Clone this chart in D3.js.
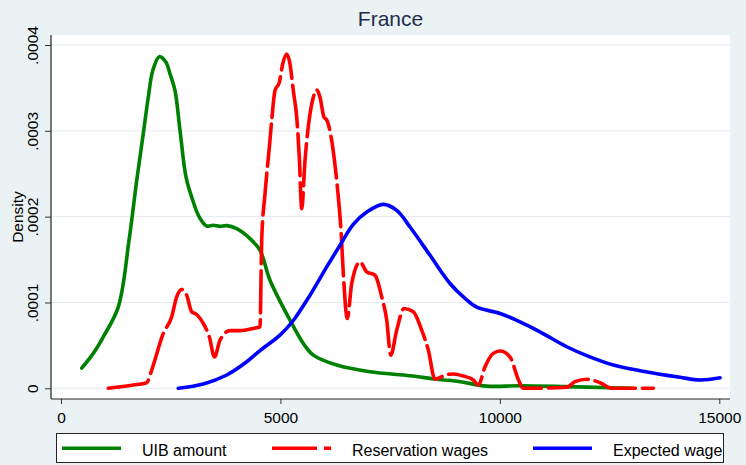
<!DOCTYPE html>
<html>
<head>
<meta charset="utf-8">
<script src="https://cdn.jsdelivr.net/npm/d3@7"></script>
<style>
  body { margin: 0; background: #eaf2f3; }
  svg { display: block; font-family: "Liberation Sans", Arial, sans-serif; }
</style>
</head>
<body>
<div id="chart"></div>
<script>
// Tick values and labels
const xTicks = [0, 5000, 10000, 15000];
const yTicks = [0, 0.0001, 0.0002, 0.0003, 0.0004];
const yTickLabels = ["0", ".0001", ".0002", ".0003", ".0004"];
const seriesNames = ["UIB amount", "Reservation wages", "Expected wage"];

// [amount, density]
const uibAmount = [
  [472, 2.36e-5], [736, 4.07e-5], [964, 6.0e-5], [1306, 9.49e-5], [1550, 1.724e-4], [1725, 2.422e-4], [1875, 2.969e-4],
  [1989, 3.391e-4], [2090, 3.701e-4], [2240, 3.864e-4], [2393, 3.798e-4], [2484, 3.663e-4],
  [2598, 3.469e-4], [2712, 3.003e-4], [2849, 2.46e-4], [2978, 2.228e-4], [3151, 1.995e-4],
  [3320, 1.891e-4], [3470, 1.899e-4], [3623, 1.887e-4], [3776, 1.895e-4], [4004, 1.86e-4],
  [4307, 1.744e-4], [4535, 1.608e-4], [4762, 1.259e-4], [5218, 7.94e-5], [5521, 5.23e-5],
  [5749, 3.87e-5], [6282, 2.71e-5], [7041, 1.93e-5], [7953, 1.47e-5], [8561, 1.05e-5],
  [9092, 7.7e-6], [9700, 2.5e-6], [10459, 3.0e-6], [11500, 2.0e-6], [12738, 0.3e-6], [13034, 0]
];

const reservationWages = [
  [1078, 0], [1647, 3.8e-6], [1953, 6.5e-6], [2067, 2.13e-5], [2331, 6.4e-5],
  [2523, 8.33e-5], [2636, 1.065e-4], [2750, 1.151e-4], [2864, 1.085e-4], [2978, 8.91e-5],
  [3092, 8.6e-5], [3243, 7.56e-5], [3379, 6.0e-5], [3498, 3.64e-5], [3623, 5.62e-5],
  [3851, 6.72e-5], [4079, 6.72e-5], [4382, 6.98e-5], [4535, 7.16e-5], [4573, 1.724e-4],
  [4649, 2.267e-4], [4747, 2.809e-4], [4801, 3.12e-4], [4876, 3.469e-4], [4974, 3.565e-4],
  [5052, 3.779e-4], [5143, 3.895e-4], [5218, 3.779e-4], [5293, 3.469e-4], [5371, 3.158e-4],
  [5430, 2.693e-4], [5485, 2.093e-4], [5560, 2.655e-4], [5674, 3.198e-4], [5749, 3.391e-4],
  [5827, 3.477e-4], [5902, 3.391e-4], [5993, 3.158e-4], [6054, 3.128e-4], [6168, 2.887e-4],
  [6266, 2.5e-4], [6319, 2.228e-4], [6380, 1.841e-4], [6433, 1.337e-4], [6524, 8.14e-5],
  [6624, 1.221e-4], [6813, 1.472e-4], [6966, 1.356e-4], [7155, 1.317e-4], [7308, 1.065e-4],
  [7422, 7.94e-5], [7513, 3.87e-5], [7650, 6.78e-5], [7816, 9.3e-5], [8028, 8.91e-5],
  [8219, 6.78e-5], [8370, 4.45e-5], [8522, 1.05e-5], [8789, 1.6e-5], [8940, 1.66e-5],
  [9167, 1.43e-5], [9395, 9.7e-6], [9509, 3.8e-6], [9662, 2.51e-5], [9851, 4.07e-5],
  [10003, 4.34e-5], [10231, 3.64e-5], [10425, 9.7e-6], [10534, 0], [11523, 1.2e-6],
  [11712, 7.7e-6], [11979, 1.05e-5], [12282, 6.5e-6], [12548, 0], [13497, 0]
];

const expectedWage = [
  [2673, 0], [3243, 5.0e-6], [3776, 1.55e-5], [4232, 3.09e-5], [4535, 4.4e-5],
  [4990, 6.2e-5], [5293, 7.9e-5], [5674, 1.085e-4], [6055, 1.414e-4], [6358, 1.667e-4],
  [6660, 1.909e-4], [6966, 2.053e-4], [7344, 2.143e-4], [7650, 2.073e-4], [7953, 1.879e-4],
  [8408, 1.55e-4], [8864, 1.221e-4], [9206, 1.047e-4], [9473, 9.45e-5], [10003, 8.72e-5],
  [10459, 7.74e-5], [10915, 6.58e-5], [11523, 4.84e-5], [11979, 3.81e-5], [12585, 2.71e-5],
  [13194, 2.05e-5], [14105, 1.28e-5], [14561, 9.7e-6], [15017, 1.23e-5]
];

const seriesColors = ["#008000", "#ff0000", "#0000ff"];

// Dimensions
const W = 746, H = 465;
const plot = { left: 51, right: 730, top: 35, bottom: 399 };

const svg = d3.select("#chart")
  .append("svg")
  .attr("width", W)
  .attr("height", H);

svg.append("rect")
  .attr("width", W)
  .attr("height", H)
  .attr("fill", "#eaf2f3");

// Plot region
svg.append("rect")
  .attr("x", plot.left)
  .attr("y", plot.top)
  .attr("width", plot.right - plot.left)
  .attr("height", plot.bottom - plot.top)
  .attr("fill", "#ffffff");

// Scales
const x = d3.scaleLinear()
  .domain([0, 15000])
  .range([61, 719.3]);

const y = d3.scaleLinear()
  .domain([0, 0.0004])
  .range([388.3, 45]);

// Gridlines
svg.append("g")
  .selectAll("line")
  .data(yTicks)
  .join("line")
  .attr("x1", plot.left)
  .attr("x2", plot.right)
  .attr("y1", d => y(d))
  .attr("y2", d => y(d))
  .attr("stroke", "#e3ebed")
  .attr("stroke-width", 1);

// Title
svg.append("text")
  .attr("x", (plot.left + plot.right) / 2)
  .attr("y", 26)
  .attr("text-anchor", "middle")
  .attr("fill", "#1e2d4d")
  .style("font-size", "21px")
  .text("France");

// Y axis
const yAxis = svg.append("g")
  .attr("transform", `translate(${plot.left},0)`)
  .call(d3.axisLeft(y)
    .tickValues(yTicks)
    .tickFormat((d, i) => yTickLabels[i])
    .tickSize(6)
    .tickSizeOuter(0));
yAxis.select(".domain").remove();
yAxis.selectAll("line").attr("stroke", "#333");
yAxis.selectAll("text")
  .attr("x", null)
  .attr("dy", null)
  .attr("transform", "translate(-13,0) rotate(-90)")
  .style("text-anchor", "middle")
  .style("font-size", "15.5px")
  .attr("fill", "#000");

// X axis
const xAxis = svg.append("g")
  .attr("transform", `translate(0,${plot.bottom})`)
  .call(d3.axisBottom(x)
    .tickValues(xTicks)
    .tickFormat(d3.format("d"))
    .tickSize(5)
    .tickPadding(8)
    .tickSizeOuter(0));
xAxis.select(".domain").remove();
xAxis.selectAll("line").attr("stroke", "#333");
xAxis.selectAll("text")
  .style("font-size", "15.5px")
  .attr("fill", "#000");

// Axis lines
svg.append("line")
  .attr("x1", plot.left).attr("x2", plot.left)
  .attr("y1", plot.top).attr("y2", plot.bottom)
  .attr("stroke", "#222").attr("stroke-width", 1.2);
svg.append("line")
  .attr("x1", plot.left).attr("x2", plot.right)
  .attr("y1", plot.bottom).attr("y2", plot.bottom)
  .attr("stroke", "#222").attr("stroke-width", 1.2);

// Y axis title
svg.append("text")
  .attr("transform", `translate(23,${(plot.top + plot.bottom) / 2}) rotate(-90)`)
  .attr("text-anchor", "middle")
  .style("font-size", "15.5px")
  .text("Density");

// Curves
const smoothLine = d3.line()
  .x(d => x(d[0]))
  .y(d => y(d[1]))
  .curve(d3.curveCatmullRom.alpha(0.5));

const sharpLine = d3.line()
  .x(d => x(d[0]))
  .y(d => y(d[1]))
  .curve(d3.curveMonotoneX);

const series = [uibAmount, reservationWages, expectedWage];
const dashes = [null, "42,7", null];
const lineGens = [smoothLine, sharpLine, smoothLine];

series.forEach((s, i) => {
  svg.append("path")
    .datum(s)
    .attr("fill", "none")
    .attr("stroke", seriesColors[i])
    .attr("stroke-width", 3.6)
    .attr("stroke-linejoin", "round")
    .attr("stroke-linecap", "round")
    .attr("stroke-dasharray", dashes[i])
    .attr("d", lineGens[i]);
});

// Legend
const legend = svg.append("g");
legend.append("rect")
  .attr("x", 56.5)
  .attr("y", 433.5)
  .attr("width", 667)
  .attr("height", 29)
  .attr("fill", "#ffffff")
  .attr("stroke", "#222")
  .attr("stroke-width", 1);

const legendX = [62, 272, 533];
seriesNames.forEach((name, i) => {
  legend.append("line")
    .attr("x1", legendX[i])
    .attr("x2", legendX[i] + 59)
    .attr("y1", 448.3)
    .attr("y2", 448.3)
    .attr("stroke", seriesColors[i])
    .attr("stroke-width", 3.6)
    .attr("stroke-dasharray", i === 1 ? "45,7" : null);
  legend.append("text")
    .attr("x", legendX[i] + 80)
    .attr("y", 455.5)
    .style("font-size", "16px")
    .text(name);
});
</script>
</body>
</html>
